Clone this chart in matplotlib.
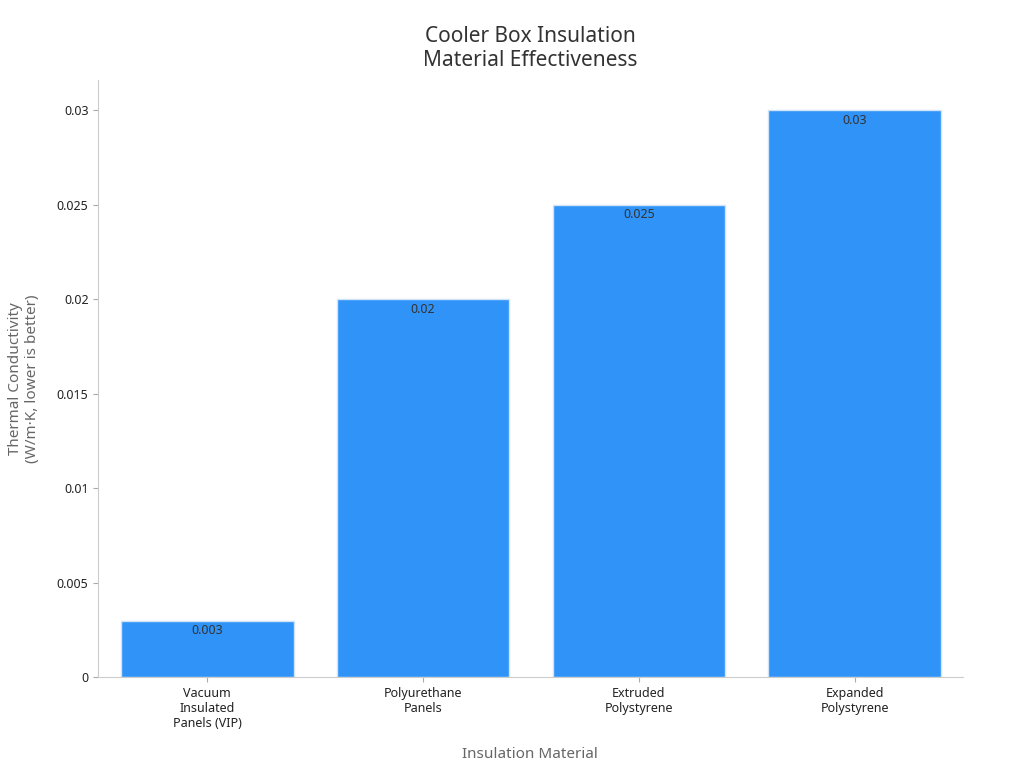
import matplotlib.pyplot as plt

plt.rcParams['font.family'] = ['Noto Sans', 'DejaVu Sans']

materials = ["Vacuum\nInsulated\nPanels (VIP)", "Polyurethane\nPanels",
             "Extruded\nPolystyrene", "Expanded\nPolystyrene"]
conductivity = [0.003, 0.02, 0.025, 0.03]
value_labels = ["0.003", "0.02", "0.025", "0.03"]

fig, ax = plt.subplots(figsize=(10.24, 7.68), dpi=100)
fig.subplots_adjust(left=0.096, right=0.94, top=0.896, bottom=0.118)

bars = ax.bar(range(len(materials)), conductivity, width=0.8,
              color='#2f93f7', edgecolor='#d0e4f7', linewidth=1)
for b, lab in zip(bars, value_labels):
    ax.text(b.get_x() + b.get_width() / 2, b.get_height() - 0.0002, lab,
            ha='center', va='top', fontsize=9, color='#333333')

ax.set_xlim(-0.505, 3.5)
ax.set_ylim(0, 0.0316)
ax.set_yticks([0, 0.005, 0.01, 0.015, 0.02, 0.025, 0.03])
ax.set_yticklabels(["0", "0.005", "0.01", "0.015", "0.02", "0.025", "0.03"])
ax.set_xticks(range(len(materials)))
ax.set_xticklabels(materials)
ax.tick_params(labelsize=9, colors='#222222')
ax.tick_params(axis='both', color='#aaaaaa')

for s in ['top', 'right']:
    ax.spines[s].set_visible(False)
for s in ['left', 'bottom']:
    ax.spines[s].set_color('#cccccc')

ax.set_title("Cooler Box Insulation\nMaterial Effectiveness", fontsize=15,
             color='#333333', pad=10)
ax.set_xlabel("Insulation Material", fontsize=11, color='#666666', labelpad=12)
ax.set_ylabel("Thermal Conductivity\n(W/m·K, lower is better)", fontsize=11,
              color='#666666', labelpad=12)

plt.savefig("out.png", dpi=100)
